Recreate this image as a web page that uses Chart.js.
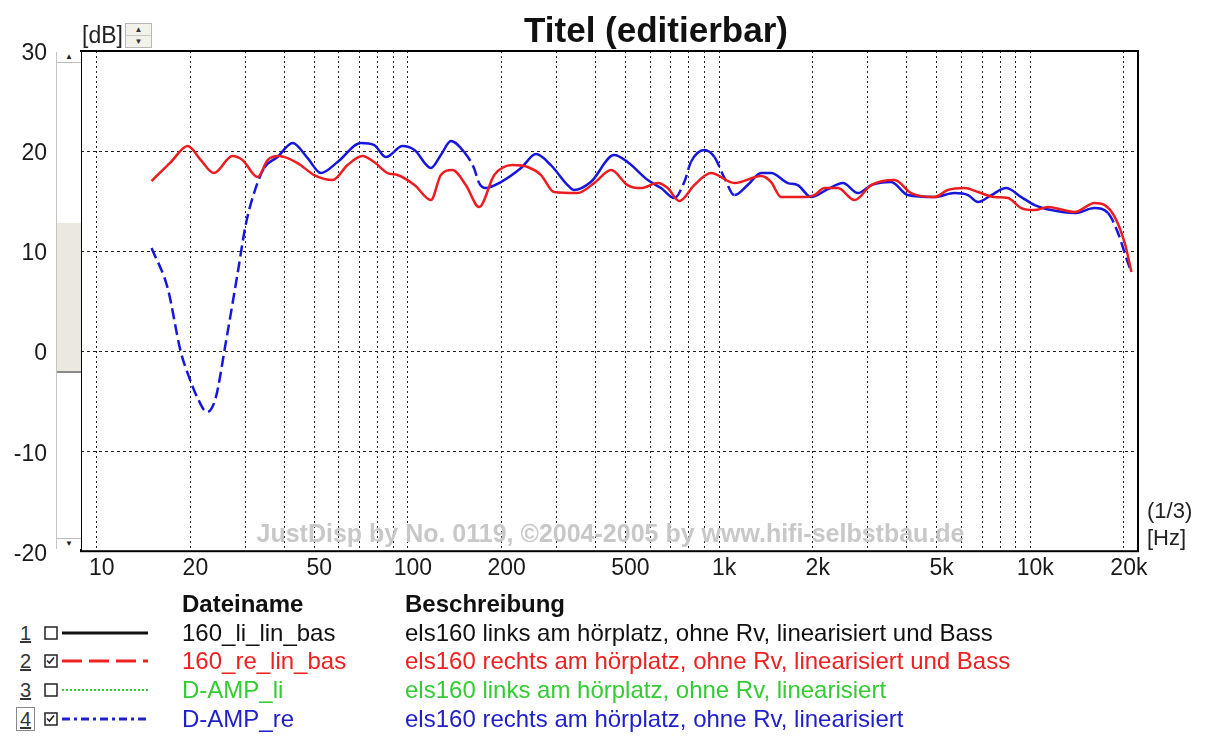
<!DOCTYPE html>
<html lang="de">
<head>
<meta charset="utf-8">
<title>Titel (editierbar)</title>
<script src="https://cdn.jsdelivr.net/npm/chart.js@4.4.1/dist/chart.umd.min.js"></script>
<style>
  body { margin: 0; background: #fff; font-family: "Liberation Sans", Arial, sans-serif; }
  #wrap { position: relative; width: 1205px; height: 742px; overflow: hidden; }
  #diagramm { position: absolute; left: 0; top: 0; }
  .abs { position: absolute; white-space: nowrap; }
  #titel { left: 406px; width: 500px; top: 10px; line-height: 40px; text-align: center; font-weight: bold; font-size: 35px; color: #111; }
  #einheitY { left: 82px; top: 22px; line-height: 26px; font-size: 23px; color: #222; }
  #spinner { left: 125px; top: 23px; width: 25px; height: 23px; border: 1px solid #b8b8b8; background: #f2f1ea; }
  #spinner div { height: 11px; font-size: 8px; line-height: 11px; text-align: center; color: #333; }
  #spinner div + div { border-top: 1px solid #c8c8c8; }
  .einheitX { left: 1147px; font-size: 22px; line-height: 26px; color: #222; }
  #scroll { left: 56px; top: 52px; width: 24px; height: 497px; border-left: 1px solid #c4c4c4; background: #fff; }
  #scroll .knopf { position: absolute; left: 0; width: 24px; height: 10px; font-size: 8px; line-height: 10px; text-align: center; color: #222; }
  #scroll .oben { top: 0; border-bottom: 1px solid #bbb; }
  #scroll .unten { bottom: 0; border-top: 1px solid #bbb; }
  #scroll .griff { position: absolute; left: 0; width: 24px; top: 171px; height: 148px; background: #ebe8df; border-bottom: 2px solid #8a8a8a; }
  .kopf { font-weight: bold; font-size: 24px; line-height: 28px; color: #111; }
  .zeile { font-size: 24px; line-height: 28px; }
  .nr { font-size: 20px; line-height: 28px; color: #333; text-decoration: underline; }
  .fokus { border: 1px solid #888; padding: 0 3px; line-height: 22px; margin-top: 2px; }
</style>
</head>
<body>
<div id="wrap">
  <canvas id="diagramm" width="1205" height="599"></canvas>
  <div id="titel" class="abs">Titel (editierbar)</div>
  <div id="einheitY" class="abs">[dB]</div>
  <div id="spinner" class="abs"><div>&#9650;</div><div>&#9660;</div></div>
  <div class="abs einheitX" style="top:498px">(1/3)</div>
  <div class="abs einheitX" style="top:525px">[Hz]</div>
  <div id="scroll" class="abs">
    <div class="knopf oben">&#9650;</div>
    <div class="griff"></div>
    <div class="knopf unten">&#9660;</div>
  </div>
  <div id="legende"></div>
</div>
<script>
// Frequenzachse (Hz)
const xGitter = [10, 20, 30, 40, 50, 60, 70, 80, 90,
                 100, 200, 300, 400, 500, 600, 700, 800, 900,
                 1000, 2000, 3000, 4000, 5000, 6000, 7000, 8000, 9000,
                 10000, 20000];
const xBeschriftungWerte = [10, 20, 50, 100, 200, 500, 1000, 2000, 5000, 10000, 20000];
const xBeschriftung = ['10', '20', '50', '100', '200', '500', '1k', '2k', '5k', '10k', '20k'];
const yTicks = [-20, -10, 0, 10, 20, 30];

// Messkurve 2: 160_re_lin_bas
const freqReLinBas = [15.0, 17.3, 19.6, 21.6, 23.8, 27.3, 29.4, 32.9, 35.4, 38.5,
  44.2, 50, 57.3, 64, 71.4, 77.9, 86, 92.7, 105, 118.6,
  127.6, 139, 153.5, 169.4, 189.5, 217, 242.6, 267.7, 295, 351,
  397, 450, 508, 561, 635, 684, 745, 833, 942, 1120,
  1365, 1470, 1581, 1880, 2026, 2183, 2410, 2725, 3083, 3664,
  4143, 4924, 5436, 6150, 6795, 7680, 8480, 9360, 10330, 11400,
  13900, 16100, 17350, 18700, 20130, 21150];
const dbReLinBas = [17.0, 18.9, 20.5, 19.1, 17.8, 19.5, 19.1, 17.4, 19.1, 19.5,
  18.8, 17.6, 17.1, 18.6, 19.5, 18.9, 17.8, 17.6, 16.6, 15.1,
  17.6, 18.1, 16.6, 14.4, 17.6, 18.6, 18.4, 17.6, 15.9, 15.8,
  16.8, 18.1, 16.6, 16.3, 16.8, 16.3, 15.0, 16.6, 17.8, 16.8,
  17.5, 16.9, 15.4, 15.4, 15.6, 16.3, 16.3, 15.1, 16.6, 17.1,
  15.8, 15.4, 16.1, 16.3, 15.9, 15.4, 15.3, 14.3, 14.1, 14.4,
  13.9, 14.8, 14.6, 13.4, 10.8, 7.9];

// Messkurve 4: D-AMP_re
const freqDampRe = [15.0, 16.9, 18.6, 19.8, 21.1, 22.6, 24.1, 26.0, 28.3, 30.1,
  32.1, 34.5, 38.1, 42.6, 47.6, 52.5, 59.4, 70.6, 77.9, 85,
  96.1, 105, 118.6, 127.6, 137.5, 151.6, 163, 169.4, 178, 199,
  231, 258, 288, 326, 342, 387, 460, 508, 590, 651,
  718, 773, 812, 897, 966, 1041, 1120, 1236, 1365, 1470,
  1663, 1790, 1977, 2238, 2500, 2795, 3083, 3573, 4040, 4924,
  5710, 6310, 6795, 7500, 8370, 9360, 10330, 11680, 13900, 16100,
  17800, 19150, 20620, 21150];
const dbDampRe = [10.3, 6.3, 0.0, -2.6, -4.7, -6.1, -4.7, 0.9, 7.6, 12.6,
  15.9, 18.3, 19.4, 20.8, 19.3, 17.8, 18.9, 20.8, 20.6, 19.4,
  20.5, 20.1, 18.3, 19.6, 21.0, 19.9, 18.3, 16.8, 16.3, 16.9,
  18.3, 19.7, 18.6, 16.6, 16.1, 16.9, 19.6, 18.9, 17.1, 16.3,
  15.3, 16.9, 18.9, 20.1, 19.4, 17.3, 15.6, 16.6, 17.8, 17.8,
  16.8, 16.6, 15.4, 16.2, 16.8, 15.8, 16.6, 16.9, 15.6, 15.4,
  15.8, 15.6, 14.9, 15.6, 16.3, 15.4, 14.6, 14.1, 13.8, 14.3,
  13.8, 11.8, 8.8, 7.9];

// Legende
const dateinamen = ['160_li_lin_bas', '160_re_lin_bas', 'D-AMP_li', 'D-AMP_re'];
const beschreibungen = [
  'els160 links am hörplatz, ohne Rv, linearisiert und Bass',
  'els160 rechts am hörplatz, ohne Rv, linearisiert und Bass',
  'els160 links am hörplatz, ohne Rv, linearisiert',
  'els160 rechts am hörplatz, ohne Rv, linearisiert'
];
const aktiv = [false, true, false, true];
const farben = ['#111111', '#ee2020', '#33cc33', '#2020cc'];
const strichmuster = ['', '20 7', '2 2', '8 4 3 4'];

const ROT = 'rgb(236,28,32)';
const BLAU = 'rgb(22,22,222)';

Chart.defaults.font.family = '"Liberation Sans", Arial, sans-serif';

function punkte(xs, ys) {
    return xs.map((x, i) => ({ x: x, y: ys[i] }));
}

const rahmenPlugin = {
    id: 'rahmen',
    beforeDatasetsDraw(chart) {
        const { ctx, chartArea } = chart;
        ctx.save();
        ctx.font = 'bold 25px "Liberation Sans", Arial, sans-serif';
        ctx.fillStyle = '#c8c8c8';
        ctx.textAlign = 'center';
        ctx.textBaseline = 'middle';
        ctx.fillText('JustDisp by No. 0119, ©2004-2005 by www.hifi-selbstbau.de',
            (chartArea.left + chartArea.right) / 2 + 1, chartArea.bottom - 16);
        ctx.restore();
    },
    afterDatasetsDraw(chart) {
        const { ctx, chartArea } = chart;
        ctx.save();
        ctx.strokeStyle = '#000';
        ctx.lineWidth = 2;
        ctx.strokeRect(chartArea.left, chartArea.top,
            chartArea.right - chartArea.left, chartArea.bottom - chartArea.top);
        ctx.restore();
    }
};

new Chart(document.getElementById('diagramm'), {
    type: 'line',
    data: {
        datasets: [{
            label: dateinamen[1],
            data: punkte(freqReLinBas, dbReLinBas),
            borderColor: ROT,
            borderWidth: 2.5,
            pointRadius: 0,
            cubicInterpolationMode: 'monotone'
        }, {
            label: dateinamen[3],
            data: punkte(freqDampRe, dbDampRe),
            borderColor: BLAU,
            borderWidth: 2.5,
            pointRadius: 0,
            cubicInterpolationMode: 'monotone',
            segment: {
                borderDash: c => {
                    const dx = Math.abs(c.p1.x - c.p0.x);
                    const dy = Math.abs(c.p1.y - c.p0.y);
                    return dy > 1.5 * dx ? [11, 5] : undefined;
                }
            }
        }]
    },
    options: {
        responsive: false,
        animation: false,
        devicePixelRatio: 1,
        layout: { padding: { top: 51, right: 67, bottom: 0, left: 0 } },
        plugins: { legend: { display: false }, tooltip: { enabled: false }, title: { display: false } },
        scales: {
            x: {
                type: 'logarithmic',
                min: 8.9,
                max: 22200,
                afterBuildTicks: s => { s.ticks = xGitter.map(v => ({ value: v })); },
                afterFit: s => { s.height = 39; },
                grid: { color: '#222', lineWidth: 1, drawTicks: false },
                border: { display: false, dash: [2, 3] },
                ticks: {
                    autoSkip: false,
                    maxRotation: 0,
                    labelOffset: 5,
                    padding: 4,
                    color: '#1a1a1a',
                    font: { size: 23 },
                    callback: v => {
                        const i = xBeschriftungWerte.indexOf(v);
                        return i >= 0 ? xBeschriftung[i] : '';
                    }
                }
            },
            y: {
                min: -20,
                max: 30,
                afterBuildTicks: s => { s.ticks = yTicks.map(v => ({ value: v })); },
                afterFit: s => { s.width = 81; },
                grid: { color: '#222', lineWidth: 1, drawTicks: false },
                border: { display: false, dash: [3, 3] },
                ticks: { padding: 34, labelOffset: 3, color: '#1a1a1a', font: { size: 23 } }
            }
        }
    },
    plugins: [rahmenPlugin]
});

// Legende unter dem Diagramm
const zeilenY = [633, 661, 690, 719];
let html = `
    <div class="abs kopf" style="left:182px; top:${604 - 14}px">Dateiname</div>
    <div class="abs kopf" style="left:405px; top:${604 - 14}px">Beschreibung</div>`;

dateinamen.forEach((name, i) => {
    const top = zeilenY[i] - 14;
    const muster = strichmuster[i] ? `stroke-dasharray="${strichmuster[i]}"` : '';
    const breite = i === 2 ? 2 : 3;
    const haken = aktiv[i] ? '<polyline points="3,6.5 5.5,9 10,3.5" fill="none" stroke="#222" stroke-width="1.6"/>' : '';
    html += `
    <div class="abs nr ${i === 3 ? 'fokus' : ''}" style="left:${i === 3 ? 16 : 20}px; top:${top}px">${i + 1}</div>
    <svg class="abs" style="left:44px; top:${zeilenY[i] - 7}px" width="14" height="14">
        <rect x="1" y="1" width="12" height="12" fill="#fff" stroke="#222" stroke-width="1.5"/>${haken}
    </svg>
    <svg class="abs" style="left:62px; top:${zeilenY[i] - 5}px" width="88" height="10">
        <line x1="0" y1="5" x2="86" y2="5" stroke="${farben[i]}" stroke-width="${breite}" ${muster}/>
    </svg>
    <div class="abs zeile" style="left:182px; top:${top}px; color:${farben[i]}">${name}</div>
    <div class="abs zeile" style="left:405px; top:${top}px; color:${farben[i]}">${beschreibungen[i]}</div>`;
});
document.getElementById('legende').innerHTML = html;
</script>
</body>
</html>
